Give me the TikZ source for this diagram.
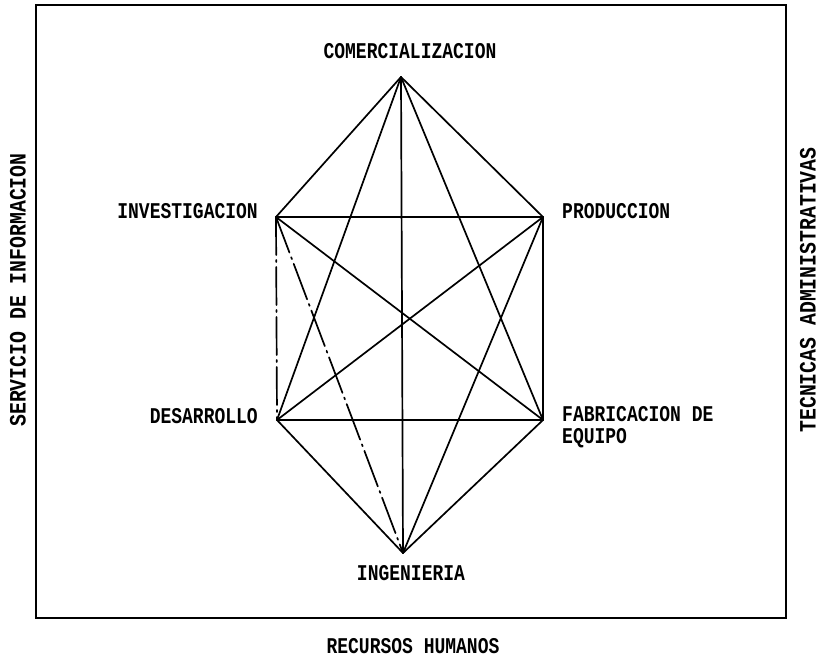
\documentclass[tikz,border=0pt]{standalone}
\usepackage{fontspec}
\setmonofont{Liberation Mono}
\usepackage{graphicx}
\newcommand\lbl[1]{\scalebox{1}[1.25]{#1}}
\newcommand\sidelbl[1]{\scalebox{1.1}[1.3]{#1}}
\tikzset{
  edge/.style={line width=1.7pt, line cap=round, line join=round},
  dashedge/.style={edge, dash pattern=on 38pt off 5pt on 2pt off 5pt},
  lab/.style={font=\ttfamily\bfseries\fontsize{18}{22}\selectfont, inner sep=0pt},
  frame/.style={line width=1.6pt}
}
\begin{document}
\begin{tikzpicture}[x=1pt,y=-1pt]
\useasboundingbox (0,0) rectangle (828,663);
\fill[white] (0,0) rectangle (828,663);
\draw[frame] (36,5) rectangle (786,618);
% vertices
\coordinate (C) at (401,77);
\coordinate (I) at (276,217);
\coordinate (P) at (543,217);
\coordinate (D) at (277,420);
\coordinate (F) at (543,420);
\coordinate (G) at (403,553);
% edges (complete graph)
\draw[edge] (C) -- (I);
\draw[edge] (C) -- (P);
\draw[edge] (C) -- (D);
\draw[edge] (C) -- (F);
\draw[edge] (C) -- (G);
\draw[edge] (I) -- (P);
\draw[dashedge] (I) -- (D);
\draw[edge] (I) -- (F);
\draw[dashedge] (I) -- (G);
\draw[edge] (P) -- (D);
\draw[edge] (P) -- (F);
\draw[edge] (P) -- (G);
\draw[edge] (D) -- (F);
\draw[edge] (D) -- (G);
\draw[edge] (F) -- (G);
% labels
\node[lab] (lC) at (410,51) {\lbl{COMERCIALIZACION}};
\node[lab, anchor=east] (lI) at (258,211) {\lbl{INVESTIGACION}};
\node[lab, anchor=west] (lP) at (562,211) {\lbl{PRODUCCION}};
\node[lab, anchor=east] (lD) at (258,416) {\lbl{DESARROLLO}};
\node[lab, anchor=west, align=left] (lF) at (562,427) {\lbl{FABRICACION DE}\\\lbl{EQUIPO}};
\node[lab] (lG) at (411,573) {\lbl{INGENIERIA}};
\node[lab] (lR) at (413,646) {\lbl{RECURSOS HUMANOS}};
\node[lab, rotate=90] (lS) at (18,290) {\sidelbl{SERVICIO DE INFORMACION}};
\node[lab, rotate=90] (lT) at (808,290) {\sidelbl{TECNICAS ADMINISTRATIVAS}};
\end{tikzpicture}
\end{document}
